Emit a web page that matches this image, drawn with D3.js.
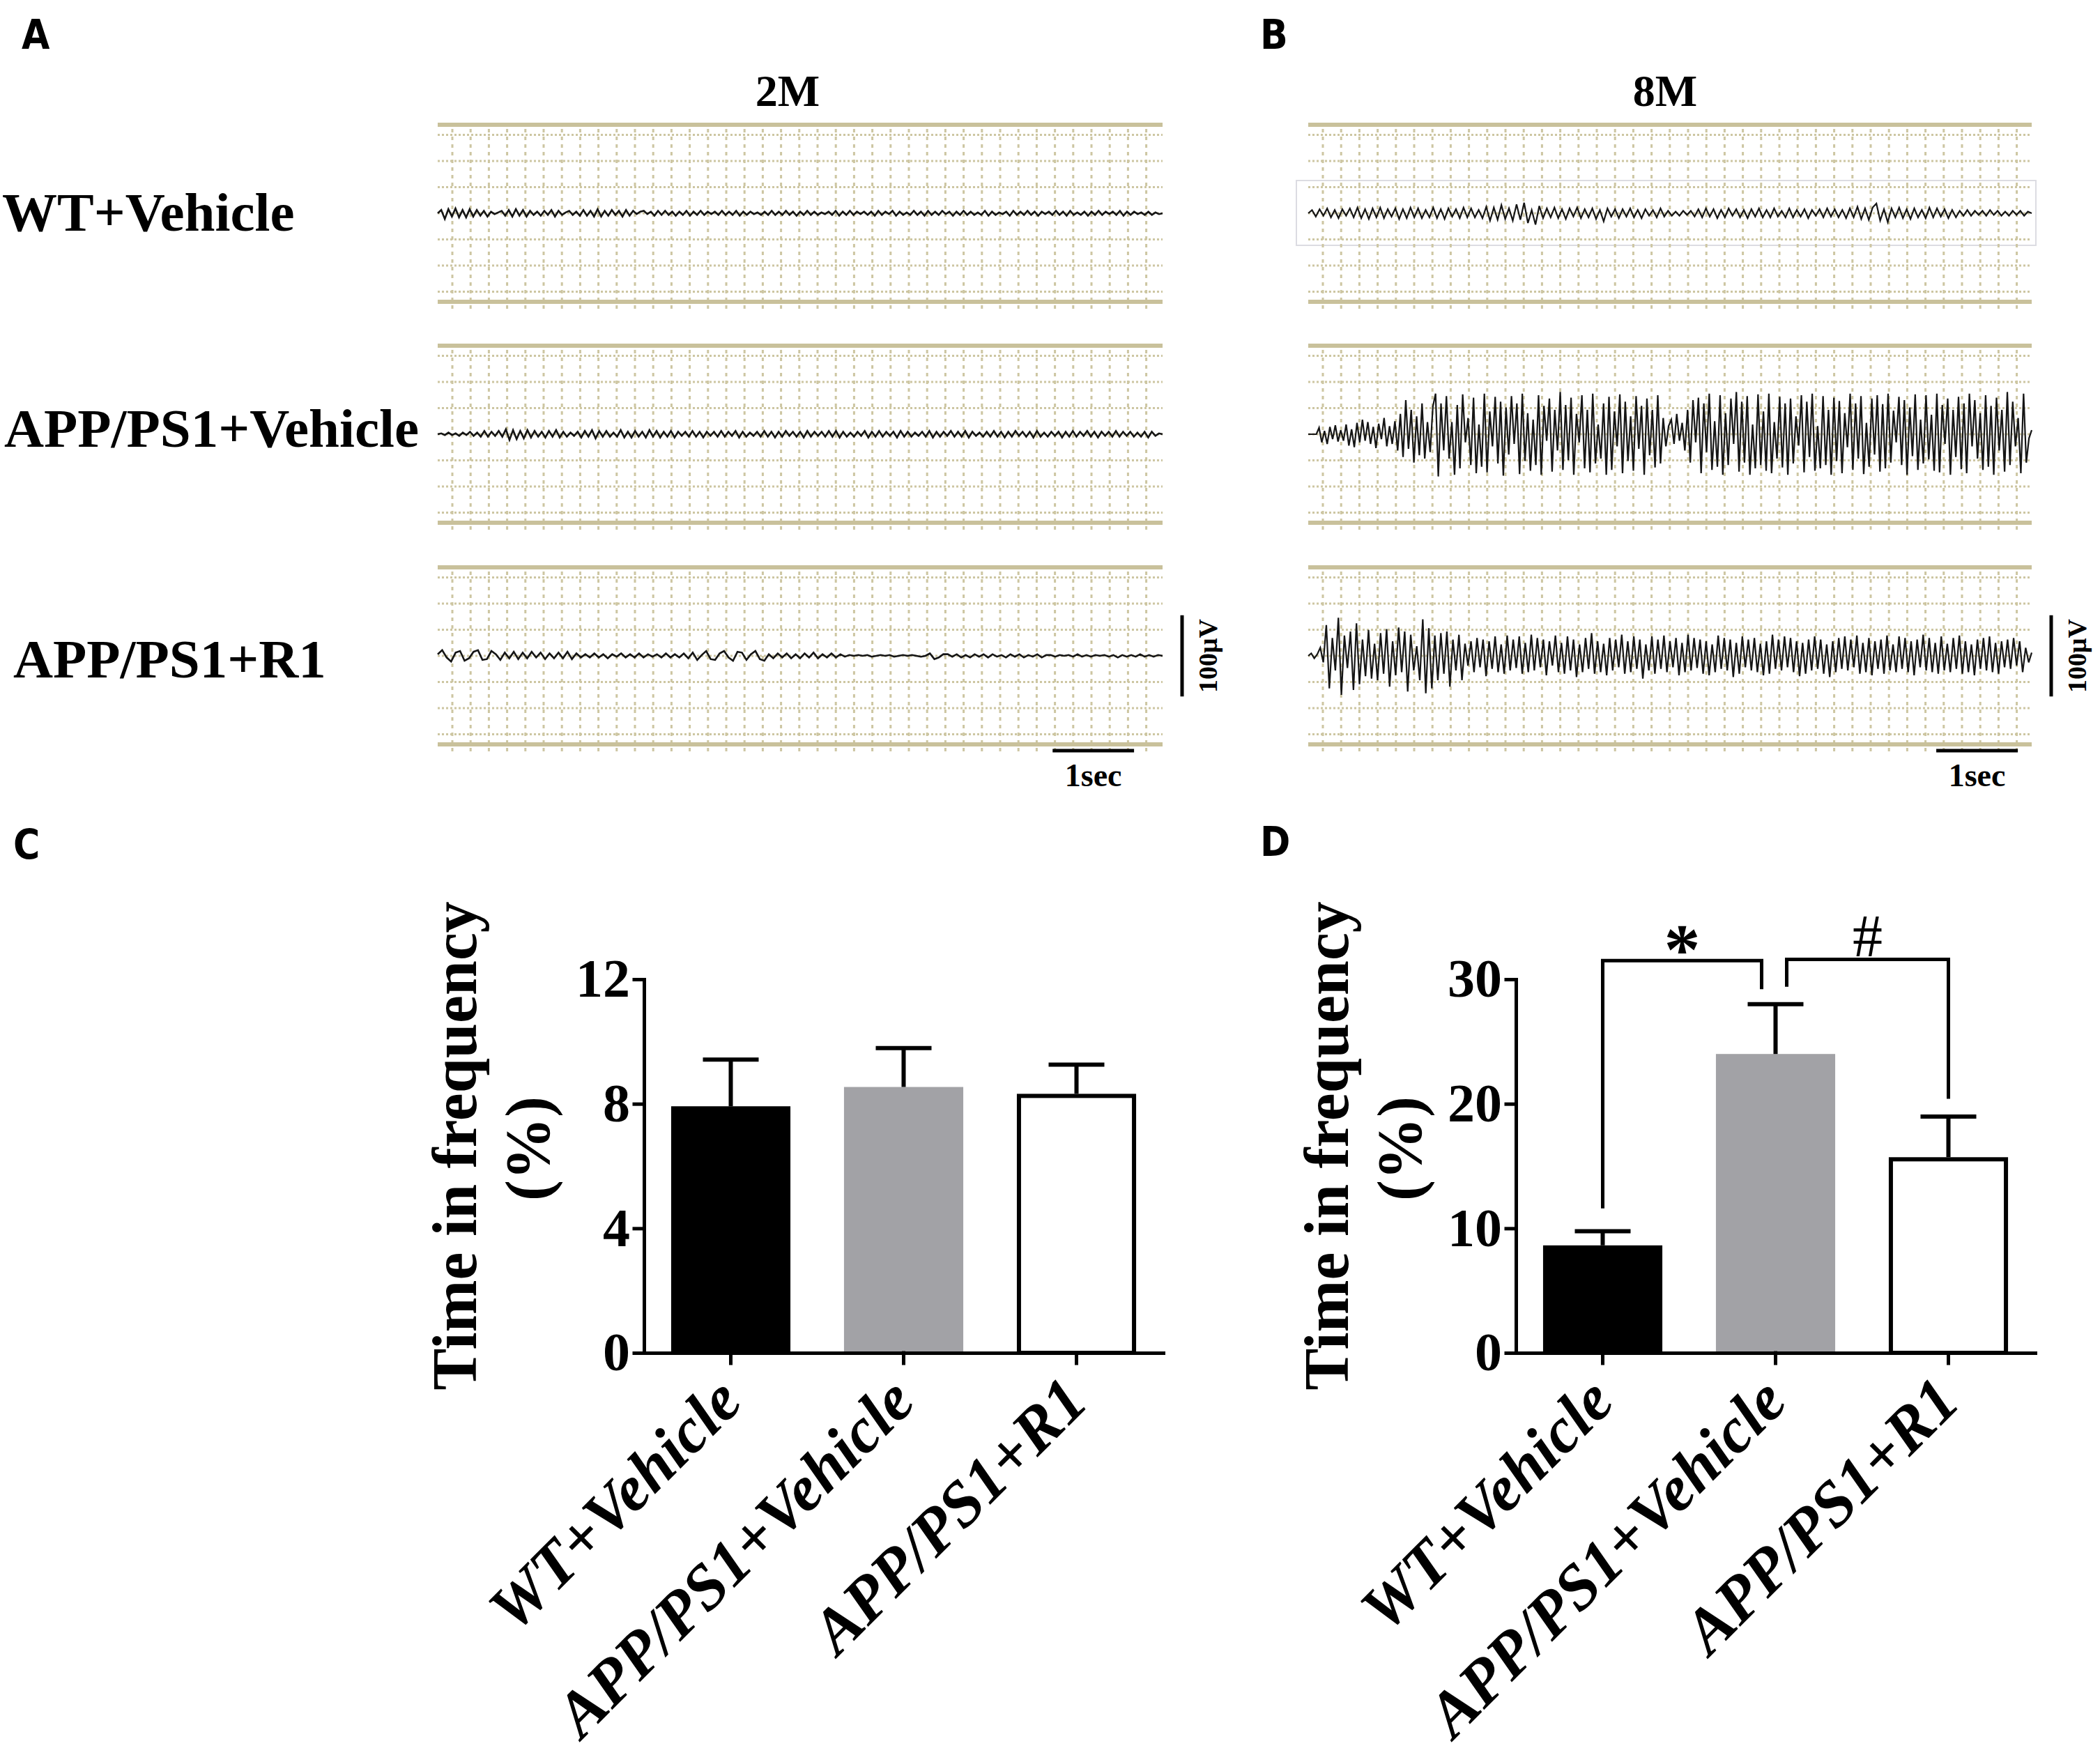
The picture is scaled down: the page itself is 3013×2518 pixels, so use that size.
<!DOCTYPE html>
<html>
<head>
<meta charset="utf-8">
<script src="https://cdn.jsdelivr.net/npm/d3@7"></script>
<style>
  body { margin: 0; background: #fff; }
</style>
</head>
<body>
<div id="fig"></div>
<script>
// ---------------- data ----------------
var groups = ["WT+Vehicle", "APP/PS1+Vehicle", "APP/PS1+R1"];
var ages = ["2M", "8M"];

// time in frequency (%), mean and SEM per group
var mean2M = [7.92, 8.54, 8.32];
var sem2M  = [1.50, 1.25, 0.94];
var mean8M = [8.63, 24.0, 15.71];
var sem8M  = [1.14, 4.0, 3.26];
var ticks2M = [0, 4, 8, 12];
var ticks8M = [0, 10, 20, 30];

// significance brackets (panel D), heights in %
var sig8M = [
  {a: 0, b: 1, top: 31.5, endA: 11.6, endB: 29.2, mark: "*"},
  {a: 1, b: 2, top: 31.6, endA: 29.4, endB: 20.4, mark: "#"}
];

// EEG strips: length in seconds, where the 1 sec bar starts, scale bar in uV
var recordSec = [8.9, 8.87];
var scaleSec = [7.55, 7.7];
var scaleUV = 100;

// EEG traces (uV), evenly sampled along each strip
var eegWT2M = [0,4,-7,5,-4,6,-5,4,-5,5,-4,4,-3,3,-4,2,-1,1,3,-3,4,-4,5,-3,4,-4,3,-2,2,-3,3,-2,4,-4,3,-2,1,3,-2,2,-3,4,-3,3,-4,5,-4,3,-3,4,-2,3,-4,4,-3,3,-1,2,3,-1,2,-3,3,-2,3,-2,2,-3,2,-2,3,-3,2,-2,3,-2,2,-1,2,-2,3,-2,2,-2,3,-3,2,-2,2,-1,1,-2,2,-2,3,-2,2,-2,3,-2,2,-3,2,-2,3,-2,2,-2,1,-1,2,-2,3,-3,2,-2,3,-2,2,-1,2,-2,2,-3,3,-2,2,-1,3,-3,2,-2,1,-2,3,-2,2,-3,3,-2,2,-2,3,-1,2,-3,2,-2,3,-2,2,-2,1,-2,3,-3,2,-2,1,-1,2,-3,3,-2,2,-2,3,-2,2,-3,2,-1,2,-2,3,-2,2,-3,3,-2,1,-2,2,-3,2,-2,3,-2,2,-1,2,-2,3,-3,2,-2,2,-1,1,-2,2,-2,1,-1,0];
var eegAPP2M = [0,1,-1,2,-1,1,-2,2,-1,3,-2,2,-3,4,-3,3,-2,4,-3,6,-7,5,-6,4,-5,5,-4,4,-3,3,-4,4,-3,5,-4,3,-3,2,-2,3,-4,4,-3,5,-5,4,-3,4,-3,2,-3,5,-4,3,-4,4,-3,3,-4,5,-3,4,-4,3,-3,4,-4,3,-2,3,-3,4,-3,3,-4,3,-2,3,-3,4,-3,3,-2,4,-4,3,-3,2,-2,3,-3,4,-3,3,-4,3,-3,4,-2,3,-3,3,-4,4,-3,3,-2,3,-3,4,-3,4,-4,3,-3,2,-3,3,-2,4,-4,3,-3,4,-3,3,-2,3,-4,4,-3,3,-3,2,-2,3,-3,4,-4,3,-3,3,-2,4,-3,3,-3,4,-4,3,-2,2,-3,3,-3,4,-3,3,-4,3,-3,4,-2,3,-3,3,-4,4,-3,2,-3,3,-2,3,-4,3,-3,4,-3,3,-2,4,-3,3,-4,3,-2,3,-3,4,-3,3,-2,3,-3,2,-3,3,-4,3,-2,1,0];
var eegR12M = [2,7,-2,-7,4,6,-6,-3,5,7,-5,-4,6,2,-5,
  4,-3,5,-4,4,-3,5,-2,4,-4,3,-3,4,-3,5,-4,3,-2,
  2,-2,3,-2,2,-3,2,-1,3,-2,2,-2,3,-2,2,-1,2,-2,3,-2,2,-2,3,-3,
  4,-5,1,6,-4,-5,3,6,-2,-6,5,4,-5,2,6,-4,-6,
  2,-3,3,-2,3,-3,2,-3,3,-2,4,-3,2,-2,3,-2,2,-1,
  1,0,1,0,1,-1,0,1,0,1,-1,0,1,0,1,0,-1,0,
  3,-4,-2,2,
  2,-1,2,-2,1,-2,2,-1,2,-2,2,-1,1,-2,2,-1,2,-2,1,-1,2,-2,1,
  1,-1,1,0,1,-1,2,-1,1,-1,1,0,1,-1,1,-2,1,-1,1,-1,2,-1,1,-1,1,0];
var eegWT8M = [0,4,-4,5,-3,6,-5,4,-6,5,-3,6,-5,
  7,-6,5,-7,6,-5,7,-6,5,-4,6,-7,5,-6,7,-5,6,-6,4,-5,7,-6,5,-7,6,-4,5,-6,7,-5,6,-5,4,-6,
  8,-9,7,-8,10,-7,6,-9,11,-8,
  13,-12,4,-14,9,-6,
  6,-5,7,-6,5,-7,6,-4,7,-6,5,-5,6,-7,4,
  -10,6,-4,5,-6,
  5,-4,6,-5,4,-6,5,-3,4,-5,6,-4,3,-3,2,-3,3,-2,3,-4,5,-5,6,-4,5,-6,4,-5,6,-3,5,-5,4,-6,5,-4,6,-5,4,-5,6,-4,3,-5,6,-5,4,-4,5,-6,4,-3,5,-5,6,-4,5,-5,4,-6,6,-5,
  8,-7,6,-8,7,
  12,-9,5,-11,
  6,-5,7,-6,5,-7,6,-5,4,-6,7,-5,6,-4,5,-6,4,-5,
  3,-3,4,-3,3,-2,3,-3,4,-2,3,-3,2,-3,3,-2,3,-3,2,0];
var eegAPP8M = [0,0,0,0,
  8,-10,4,-12,9,-6,11,-9,5,-8,12,
  -14,6,-16,14,-10,18,-8,15,-12,9,-17,13,-6,20,-15,10,-12,16,
  -20,25,-28,42,-18,30,-35,22,-26,38,-30,15,-22,34,
  50,-52,38,-20,47,-30,15,-50,36,-42,49,-10,20,-38,45,-48,12,-40,50,-47,28,-15,46,-36,40,-51,33,-25,47,-12,38,-49,50,-33,26,-45,18,-38,48,-50,35,-8,44,-46,30,-20,52,-44,36,-32,45,-50,25,-10,48,-42,30,-47,50,-36,12,-30,38,-50,46,-44,28,-15,49,-48,40,-33,22,-45,47,-18,35,-50,44,-26,30,-41,48,-36,20,-15,10,
  18,-12,25,-8,14,-20,
  30,-35,42,-10,45,-48,38,-22,50,-44,16,-40,48,-50,26,-38,44,-12,52,-46,40,-35,47,-50,12,-42,49,-38,28,-45,50,-48,15,-30,46,-41,38,-50,44,-36,22,-14,48,-47,40,-28,50,-45,10,-42,47,-38,30,-50,45,-33,41,-48,26,-16,50,-44,38,-30,47,-49,14,-40,44,-25,48,-46,37,-42,50,-35,29,-10,46,-38,42,-50,33,-27,49,-44,18,-36,48,-31,24,-45,50,-47,36,-12,44,-50,30,-28,46,-43,38,-48,50,-15,42,-30,26,-44,48,-40,35,-50,45,-20,30,-46,52,-38,
  40,-15,20,-48,50,-35,-5,5];
var eegR18M = [0,3,-3,2,
  10,-8,38,-40,22,-18,47,-48,25,-15,30,-42,40,-35,20,-25,32,-28,15,-30,28,-22,33,-38,18,-24,35,-20,30,-44,26,-18,12,-30,45,-46,34,-40,
  25,-30,28,-22,30,-38,20,-18,26,-30,15,
  -12,18,-20,22,-14,20,-25,18,-16,24,-20,14,-22,25,-18,20,-15,24,-22,16,-20,26,-18,22,-14,20,-24,18,-12,25,-20,16,-22,24,-18,20,-26,14,-20,22,-16,28,-22,18,-20,15,-24,22,-18,20,-14,26,-22,18,-20,24,-16,20,-28,14,-18,24,-22,20,-16,25,-20,18,-14,22,-24,16,-20,26,-18,22,-15,20,-22,18,-24,14,-20,25,-16,22,-18,20,-26,16,-22,24,-14,20,-18,22,-20,15,-24,18,-22,26,-16,20,-18,24,-14,22,-20,18,-25,16,-22,20,-18,24,-16,20,-22,14,-26,18,-20,22,-16,24,-18,20,-14,25,-22,16,-20,22,-24,18,-16,20,-22,25,-18,14,-20,24,-16,22,-20,18,-24,20,-14,26,-18,22,-20,16,-22,24,-18,15,-20,22,-16,25,-22,18,-20,14,-24,20,-16,22,-18,24,-20,16,-22,18,-14,20,-16,22,-12,18,-20,10,-8,4];

// ---------------- layout ----------------
var serif = "'Liberation Serif', 'Times New Roman', serif";
var sans = "'Liberation Sans Narrow', 'DejaVu Sans Condensed', 'Liberation Sans', sans-serif";

var svg = d3.select("#fig").append("svg")
    .attr("width", 3013)
    .attr("height", 2518)
    .style("background", "#fff");

// panel letters
var letters = [
  {t: "A", x: 31, y: 70}, {t: "B", x: 1808, y: 70},
  {t: "C", x: 19, y: 1232}, {t: "D", x: 1808, y: 1228}
];
svg.selectAll("text.letter").data(letters).enter().append("text")
    .attr("class", "letter")
    .attr("x", function(d) { return d.x; })
    .attr("y", function(d) { return d.y; })
    .style("font-family", sans).style("font-weight", "bold").style("font-size", "58px")
    .text(function(d) { return d.t; });

// ---------------- EEG strips (A, B) ----------------
var eegPanels = [
  {x0: 628, x1: 1668, title: 1130, traces: [eegWT2M, eegAPP2M, eegR12M]},
  {x0: 1877, x1: 2915, title: 2389, traces: [eegWT8M, eegAPP8M, eegR18M]}
];
var rowTop = [179, 496, 814], rowH = 254;
var gridCol = "#cdc6a2", borderCol = "#c9c19b";

function drawGrid(g, x0, x1, top, bottom) {
  var h = bottom - top;
  var gy = d3.scaleLinear().domain([0, 6]).range([top + 0.057 * h, bottom - 0.057 * h]);
  var cols = d3.range(x0 + 21, x1 - 4, 26.2);

  g.selectAll(null).data(d3.range(7)).enter().append("line")
      .attr("x1", x0).attr("x2", x1)
      .attr("y1", function(d) { return gy(d); })
      .attr("y2", function(d) { return gy(d); })
      .attr("stroke", gridCol).attr("stroke-width", 3)
      .attr("stroke-dasharray", "3,3");

  g.selectAll(null).data(cols).enter().append("line")
      .attr("x1", function(d) { return d; })
      .attr("x2", function(d) { return d; })
      .attr("y1", top + 6).attr("y2", bottom + 10)
      .attr("stroke", gridCol).attr("stroke-width", 3)
      .attr("stroke-dasharray", "5,6");

  g.selectAll(null).data([top, bottom]).enter().append("line")
      .attr("x1", x0).attr("x2", x1)
      .attr("y1", function(d) { return d; })
      .attr("y2", function(d) { return d; })
      .attr("stroke", borderCol).attr("stroke-width", 6);
}

eegPanels.forEach(function(p, pi) {
  var g = svg.append("g");
  var t = d3.scaleLinear().domain([0, recordSec[pi]]).range([p.x0, p.x1]);

  g.append("text")
      .attr("x", p.title).attr("y", 152)
      .attr("text-anchor", "middle")
      .style("font-family", serif).style("font-weight", "bold").style("font-size", "64px")
      .text(ages[pi]);

  // faint box round the first 8M trace
  if (pi == 1) {
    g.append("rect")
        .attr("x", 1860).attr("y", 259).attr("width", 1061).attr("height", 93)
        .attr("fill", "none").attr("stroke", "#dcdce2").attr("stroke-width", 2);
  }

  rowTop.forEach(function(top, ri) {
    var bottom = top + rowH;
    var y = d3.scaleLinear().domain([-109, 109]).range([bottom, top]);
    drawGrid(g, p.x0, p.x1, top, bottom);

    var vals = p.traces[ri];
    var xi = d3.scaleLinear().domain([0, vals.length - 1]).range([p.x0, p.x1]);
    g.append("path")
        .datum(vals)
        .attr("fill", "none")
        .attr("stroke", "#151515")
        .attr("stroke-width", pi == 0 ? 2.6 : 2.2)
        .attr("d", d3.line()
            .x(function(d, i) { return xi(i); })
            .y(function(d) { return y(d); }));

    if (ri == 2) {
      // 100 uV bar
      var bx = p.x1 + 28;
      g.append("line")
          .attr("x1", bx).attr("x2", bx)
          .attr("y1", y(-scaleUV / 2)).attr("y2", y(scaleUV / 2))
          .attr("stroke", "#000").attr("stroke-width", 5);
      g.append("text")
          .attr("transform", "translate(" + (bx + 50) + "," + y(0) + ") rotate(-90)")
          .attr("text-anchor", "middle")
          .style("font-family", serif).style("font-weight", "bold").style("font-size", "38px")
          .text(scaleUV + "\u03bcV");
      // 1 sec bar
      g.append("line")
          .attr("x1", t(scaleSec[pi])).attr("x2", t(scaleSec[pi] + 1))
          .attr("y1", bottom + 9).attr("y2", bottom + 9)
          .attr("stroke", "#000").attr("stroke-width", 5);
      g.append("text")
          .attr("x", t(scaleSec[pi] + 0.5)).attr("y", 1128)
          .attr("text-anchor", "middle")
          .style("font-family", serif).style("font-weight", "bold").style("font-size", "46px")
          .text("1sec");
    }
  });
});

// row labels
var rowBase = [331, 641, 972], rowLeft = [3, 6, 19];
svg.selectAll("text.row").data(groups).enter().append("text")
    .attr("class", "row")
    .attr("x", function(d, i) { return rowLeft[i]; })
    .attr("y", function(d, i) { return rowBase[i]; })
    .style("font-family", serif).style("font-weight", "bold").style("font-size", "79px")
    .text(function(d) { return d; });

// ---------------- bar charts (C, D) ----------------
var fills = ["#000000", "#a2a2a6", "#ffffff"];
var barPanels = [
  {x0: 924, x1: 1669, means: mean2M, sems: sem2M, ticks: ticks2M, max: 12},
  {x0: 2175, x1: 2920, means: mean8M, sems: sem8M, ticks: ticks8M, max: 30, sig: sig8M}
];

barPanels.forEach(function(p) {
  var g = svg.append("g");
  var x = d3.scaleBand().domain(groups).range([p.x0, p.x1])
      .paddingInner(0.31).paddingOuter(0.157);
  var y = d3.scaleLinear().domain([0, p.max]).range([1941, 1405]);
  var bw = x.bandwidth();

  g.selectAll("rect.bar").data(groups).enter().append("rect")
      .attr("class", "bar")
      .attr("x", function(d, i) { return x(d) + (i == 2 ? 3 : 0); })
      .attr("y", function(d, i) { return y(p.means[i]) + (i == 2 ? 3 : 0); })
      .attr("width", function(d, i) { return bw - (i == 2 ? 6 : 0); })
      .attr("height", function(d, i) { return y(0) - y(p.means[i]) - (i == 2 ? 3 : 0); })
      .attr("fill", function(d, i) { return fills[i]; })
      .attr("stroke", function(d, i) { return i == 2 ? "#000" : "none"; })
      .attr("stroke-width", 6);

  // SEM, upper whisker only
  g.selectAll("path.err").data(groups).enter().append("path")
      .attr("class", "err")
      .attr("d", function(d, i) {
        var cx = x(d) + bw / 2, y0 = y(p.means[i]), y1 = y(p.means[i] + p.sems[i]);
        return "M" + cx + "," + y0 + "V" + y1 + "M" + (cx - 40) + "," + y1 + "H" + (cx + 40);
      })
      .attr("fill", "none").attr("stroke", "#000").attr("stroke-width", 6);

  var ya = g.append("g")
      .attr("transform", "translate(" + p.x0 + ",0)")
      .call(d3.axisLeft(y).tickValues(p.ticks).tickSize(14).tickSizeOuter(0)
          .tickPadding(6).tickFormat(d3.format("d")));
  ya.selectAll("text")
      .style("font-family", serif).style("font-weight", "bold").style("font-size", "78px")
      .attr("fill", "#000");

  var xa = g.append("g")
      .attr("transform", "translate(0," + y(0) + ")")
      .call(d3.axisBottom(x).tickSize(15).tickSizeOuter(0));
  xa.selectAll("text")
      .attr("x", 0).attr("y", 0).attr("dy", "0")
      .attr("transform", "translate(20,74) rotate(-45)")
      .style("text-anchor", "end")
      .style("font-family", serif).style("font-weight", "bold")
      .style("font-style", "italic").style("font-size", "92px")
      .attr("fill", "#000");

  g.selectAll(".domain, .tick line")
      .attr("stroke", "#000").attr("stroke-width", 5)
      .attr("stroke-linecap", "square");

  // y title
  g.append("text")
      .attr("transform", "translate(" + (p.x0 - 241) + ",1644) rotate(-90)")
      .attr("text-anchor", "middle")
      .style("font-family", serif).style("font-weight", "bold").style("font-size", "90px")
      .text("Time in frequency");
  g.append("text")
      .attr("transform", "translate(" + (p.x0 - 136) + ",1648) rotate(-90)")
      .attr("text-anchor", "middle")
      .style("font-family", serif).style("font-weight", "bold").style("font-size", "90px")
      .text("(%)");

  if (p.sig) {
    p.sig.forEach(function(s) {
      var xa0 = x(groups[s.a]) + bw / 2 + (s.a == 1 ? 16 : 0);
      var xb0 = x(groups[s.b]) + bw / 2 - (s.b == 1 ? 20 : 0);
      g.append("path")
          .attr("d", "M" + xa0 + "," + y(s.endA) + "V" + y(s.top) + "H" + xb0 + "V" + y(s.endB))
          .attr("fill", "none").attr("stroke", "#000").attr("stroke-width", 5);
      var star = s.mark == "*";
      g.append("text")
          .attr("x", (xa0 + xb0) / 2)
          .attr("y", y(s.top) + (star ? 19 : -4))
          .attr("text-anchor", "middle")
          .style("font-family", serif)
          .style("font-weight", star ? "bold" : "normal")
          .style("font-size", star ? "104px" : "86px")
          .text(s.mark);
    });
  }
});
</script>
</body>
</html>
